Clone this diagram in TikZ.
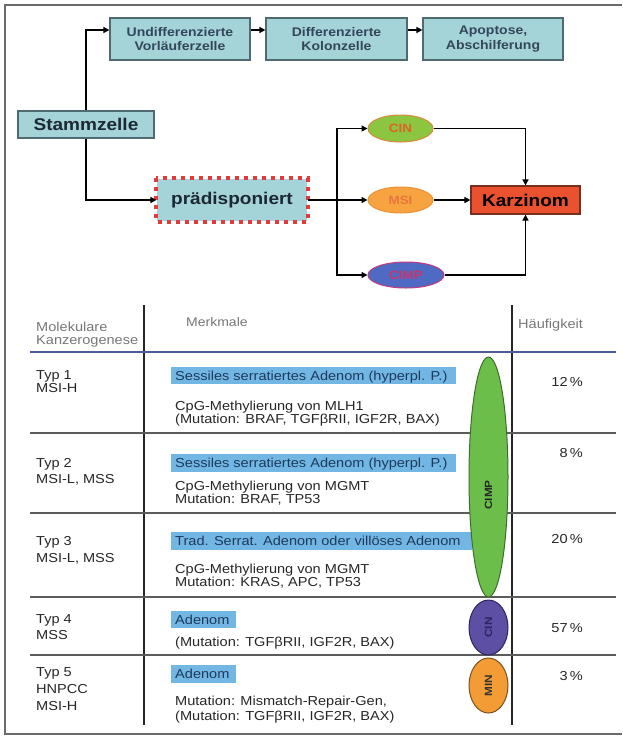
\documentclass[tikz,border=0pt]{standalone}
\usepackage{fontspec}
\setmainfont{Liberation Sans}[FakeStretch=1.12]
\usetikzlibrary{arrows.meta,shapes.geometric,calc}
\definecolor{boxfill}{HTML}{A4D4D8}
\definecolor{boxedge}{HTML}{4F6A73}
\definecolor{toptext}{HTML}{34465A}
\definecolor{darktext}{HTML}{1C2833}
\definecolor{tabtext}{HTML}{262626}
\definecolor{headgray}{HTML}{777777}
\definecolor{blueboxc}{HTML}{72B6E4}
\definecolor{blueboxtext}{HTML}{1E3A5A}
\definecolor{bluelinec}{HTML}{4E5C98}
\definecolor{sepgray}{HTML}{5C5C5C}
\definecolor{framec}{HTML}{6B6B6B}
\definecolor{cimpgreen}{HTML}{6CBE4B}
\definecolor{cimpedge}{HTML}{3E6E2A}
\definecolor{cinpurple}{HTML}{5D4FA4}
\definecolor{cinedge}{HTML}{2C2560}
\definecolor{minorange}{HTML}{F39B34}
\definecolor{minedge}{HTML}{7A5020}
\definecolor{ovgreen}{HTML}{8CC640}
\definecolor{ovgreenedge}{HTML}{D9893A}
\definecolor{ovgreentext}{HTML}{E0602A}
\definecolor{ovorange}{HTML}{F7A440}
\definecolor{ovorangeedge}{HTML}{E8923A}
\definecolor{ovorangetext}{HTML}{E8743E}
\definecolor{ovblue}{HTML}{4F6AC2}
\definecolor{ovblueedge}{HTML}{C33A7C}
\definecolor{ovbluetext}{HTML}{C8356E}
\definecolor{karz}{HTML}{E9512F}
\definecolor{karzedge}{HTML}{7A2E1E}
\definecolor{dashred}{HTML}{E23B3B}
\tikzset{
  topbox/.style={draw=boxedge, fill=boxfill, line width=1.2pt, minimum width=140pt,
    minimum height=42pt, inner sep=0pt, align=center, text=toptext,
    font=\bfseries\fontsize{12.5}{14.5}\selectfont},
  bigbox/.style={draw=boxedge, fill=boxfill, line width=1.2pt, inner sep=0pt,
    text=darktext, font=\bfseries\fontsize{17}{20}\selectfont},
  oval/.style={ellipse, inner sep=0pt, line width=1pt,
    font=\bfseries\fontsize{12}{14}\selectfont},
  arr/.style={line width=1.8pt, draw=black, -{Triangle[length=6pt,width=6pt]}},
  tx/.style={anchor=base west, inner sep=0pt, text=tabtext, font=\fontsize{13}{15}\selectfont},
  bx/.style={anchor=base west, inner sep=0pt, text=blueboxtext, font=\fontsize{13}{15}\selectfont},
  hd/.style={anchor=base west, inner sep=0pt, text=headgray, font=\fontsize{13}{15}\selectfont},
  pc/.style={anchor=base east, inner sep=0pt, text=tabtext, font=\fontsize{13}{15}\selectfont},
  tov/.style={ellipse, inner sep=0pt, line width=1pt, minimum width=39pt},
  tovlabel/.style={rotate=90, inner sep=0pt, font=\bfseries\fontsize{10.5}{12}\selectfont},
  sepline/.style={line width=1.8pt, draw=sepgray},
  colline/.style={line width=1.3pt, draw=black!85}
}
\begin{document}
\begin{tikzpicture}[x=1pt,y=-1pt]
\useasboundingbox (0,0) rectangle (622,737);
% frame
\draw[framec, line width=1.3pt] (622,5) -- (5,5) -- (5,734) -- (622,734);

% ---------- top flow diagram ----------
\node[topbox] (U) at (180,39) {Undifferenzierte\\Vorläuferzelle};
\node[topbox, minimum width=141pt] (D) at (336.5,39) {Differenzierte\\Kolonzelle};
\node[topbox] (A) at (493,39) {Apoptose,\\Abschilferung};
\node[bigbox, minimum width=136pt, minimum height=27pt] (S) at (86,124.5) {Stammzelle};
\node[bigbox, draw=none, minimum width=150pt, minimum height=42pt] (P) at (232,200) {prädisponiert};
\draw[dashred, line width=4pt, dash pattern=on 4pt off 5pt]
  (P.north west) rectangle (P.south east);

\node[oval, fill=ovgreen, draw=ovgreenedge, text=ovgreentext, minimum width=65pt, minimum height=27pt] (CIN) at (400.5,128.5) {CIN};
\node[oval, fill=ovorange, draw=ovorangeedge, text=ovorangetext, minimum width=65pt, minimum height=26pt] (MSI) at (400.5,200) {MSI};
\node[oval, fill=ovblue, draw=ovblueedge, text=ovbluetext, minimum width=76pt, minimum height=26pt] (CIMPt) at (406,275) {CIMP};
\node[draw=karzedge, fill=karz, line width=1.2pt, inner sep=0pt, minimum width=109pt, minimum height=28pt,
  text=black, font=\bfseries\fontsize{17}{20}\selectfont] (K) at (525.5,200) {Karzinom};

\draw[arr] (S.north) |- ($(U.west)+(0,-9)$);
\draw[arr] ($(U.east)+(0,-9)$) -- ($(D.west)+(0,-9)$);
\draw[arr] ($(D.east)+(0,-9)$) -- ($(A.west)+(0,-9)$);
\draw[arr] (S.south) |- (P.west);
\draw[arr] (P.east) -- (MSI.west);
\coordinate (br) at (337,200);
\draw[arr] (br) |- (CIN.west);
\draw[arr] (br) |- (CIMPt.west);
\draw[arr] (CIN.east) -| (K.north);
\draw[arr] (CIMPt.east) -| (K.south);
\draw[arr] (MSI.east) -- (K.west);

% ---------- table ----------
\draw[colline] (144,305) -- (144,725);
\draw[colline] (512,305) -- (512,725);
\draw[line width=2.2pt, draw=bluelinec] (30,352) -- (616,352);
\draw[sepline] (30,433) -- (616,433);
\draw[sepline] (30,513) -- (616,513);
\draw[sepline] (30,597) -- (616,597);
\draw[sepline] (30,655) -- (616,655);

% header
\node[hd] (h1) at (36,331.5) {Molekulare};
\node[hd] (h2) at (36,344.5) {Kanzerogenese};
\node[hd, font=\fontsize{12.5}{14}\selectfont] (h3) at (186,326.5) {Merkmale};
\node[hd] (h4) at (518,328.5) {Häufigkeit};

% left column
\node[tx] (l1a) at (36,379) {Typ 1};
\node[tx] (l1b) at (36,392) {MSI-H};
\node[tx] (l2a) at (36,467) {Typ 2};
\node[tx] (l2b) at (36,483) {MSI-L, MSS};
\node[tx] (l3a) at (36,545) {Typ 3};
\node[tx] (l3b) at (36,562) {MSI-L, MSS};
\node[tx] (l4a) at (36,623) {Typ 4};
\node[tx] (l4b) at (36,639) {MSS};
\node[tx] (l5a) at (36,676) {Typ 5};
\node[tx] (l5b) at (36,693) {HNPCC};
\node[tx] (l5c) at (36,710) {MSI-H};

% blue boxes
\fill[blueboxc] (171,367) rectangle (456,384);
\fill[blueboxc] (171,454) rectangle (456,472);
\fill[blueboxc] (171,532) rectangle (472,550);
\fill[blueboxc] (171,611) rectangle (236,628);
\fill[blueboxc] (171,665) rectangle (236,683);

% middle column
\node[bx] (m1a) at (175,380) {Sessiles serratiertes Adenom (hyperpl. P.)};
\node[tx] (m1b) at (175,410) {CpG-Methylierung von MLH1};
\node[tx] (m1c) at (175,423.5) {(Mutation: BRAF, TGFβRII, IGF2R, BAX)};
\node[bx] (m2a) at (175,467.5) {Sessiles serratiertes Adenom (hyperpl. P.)};
\node[tx] (m2b) at (175,490) {CpG-Methylierung von MGMT};
\node[tx] (m2c) at (175,503.5) {Mutation: BRAF, TP53};
\node[bx] (m3a) at (175,545.5) {Trad. Serrat. Adenom oder villöses Adenom};
\node[tx] (m3b) at (175,573) {CpG-Methylierung von MGMT};
\node[tx] (m3c) at (175,586.5) {Mutation: KRAS, APC, TP53};
\node[bx] (m4a) at (175,624) {Adenom};
\node[tx] (m4b) at (175,646) {(Mutation: TGFβRII, IGF2R, BAX)};
\node[bx] (m5a) at (175,678.5) {Adenom};
\node[tx] (m5b) at (175,705) {Mutation: Mismatch-Repair-Gen,};
\node[tx] (m5c) at (175,720) {(Mutation: TGFβRII, IGF2R, BAX)};

% table ovals
\node[tov, fill=cimpgreen, draw=cimpedge, minimum height=240pt] (ov1) at (488.5,477) {};
\node[tovlabel, text=black!85] (ov1t) at (488.5,495) {CIMP};
\node[tov, fill=cinpurple, draw=cinedge, minimum height=55pt] (ov2) at (488.5,627.5) {};
\node[tovlabel, text=cinedge] (ov2t) at (488.5,627.5) {CIN};
\node[tov, fill=minorange, draw=minedge, minimum height=55pt] (ov3) at (488.5,685.5) {};
\node[tovlabel, text=black!80] (ov3t) at (488.5,686) {MIN};

% percentages
\node[pc] (p1) at (583,386.5) {12\,\%};
\node[pc] (p2) at (583,457.5) {8\,\%};
\node[pc] (p3) at (583,543.5) {20\,\%};
\node[pc] (p4) at (583,632.5) {57\,\%};
\node[pc] (p5) at (583,680.5) {3\,\%};
\end{tikzpicture}
\end{document}
